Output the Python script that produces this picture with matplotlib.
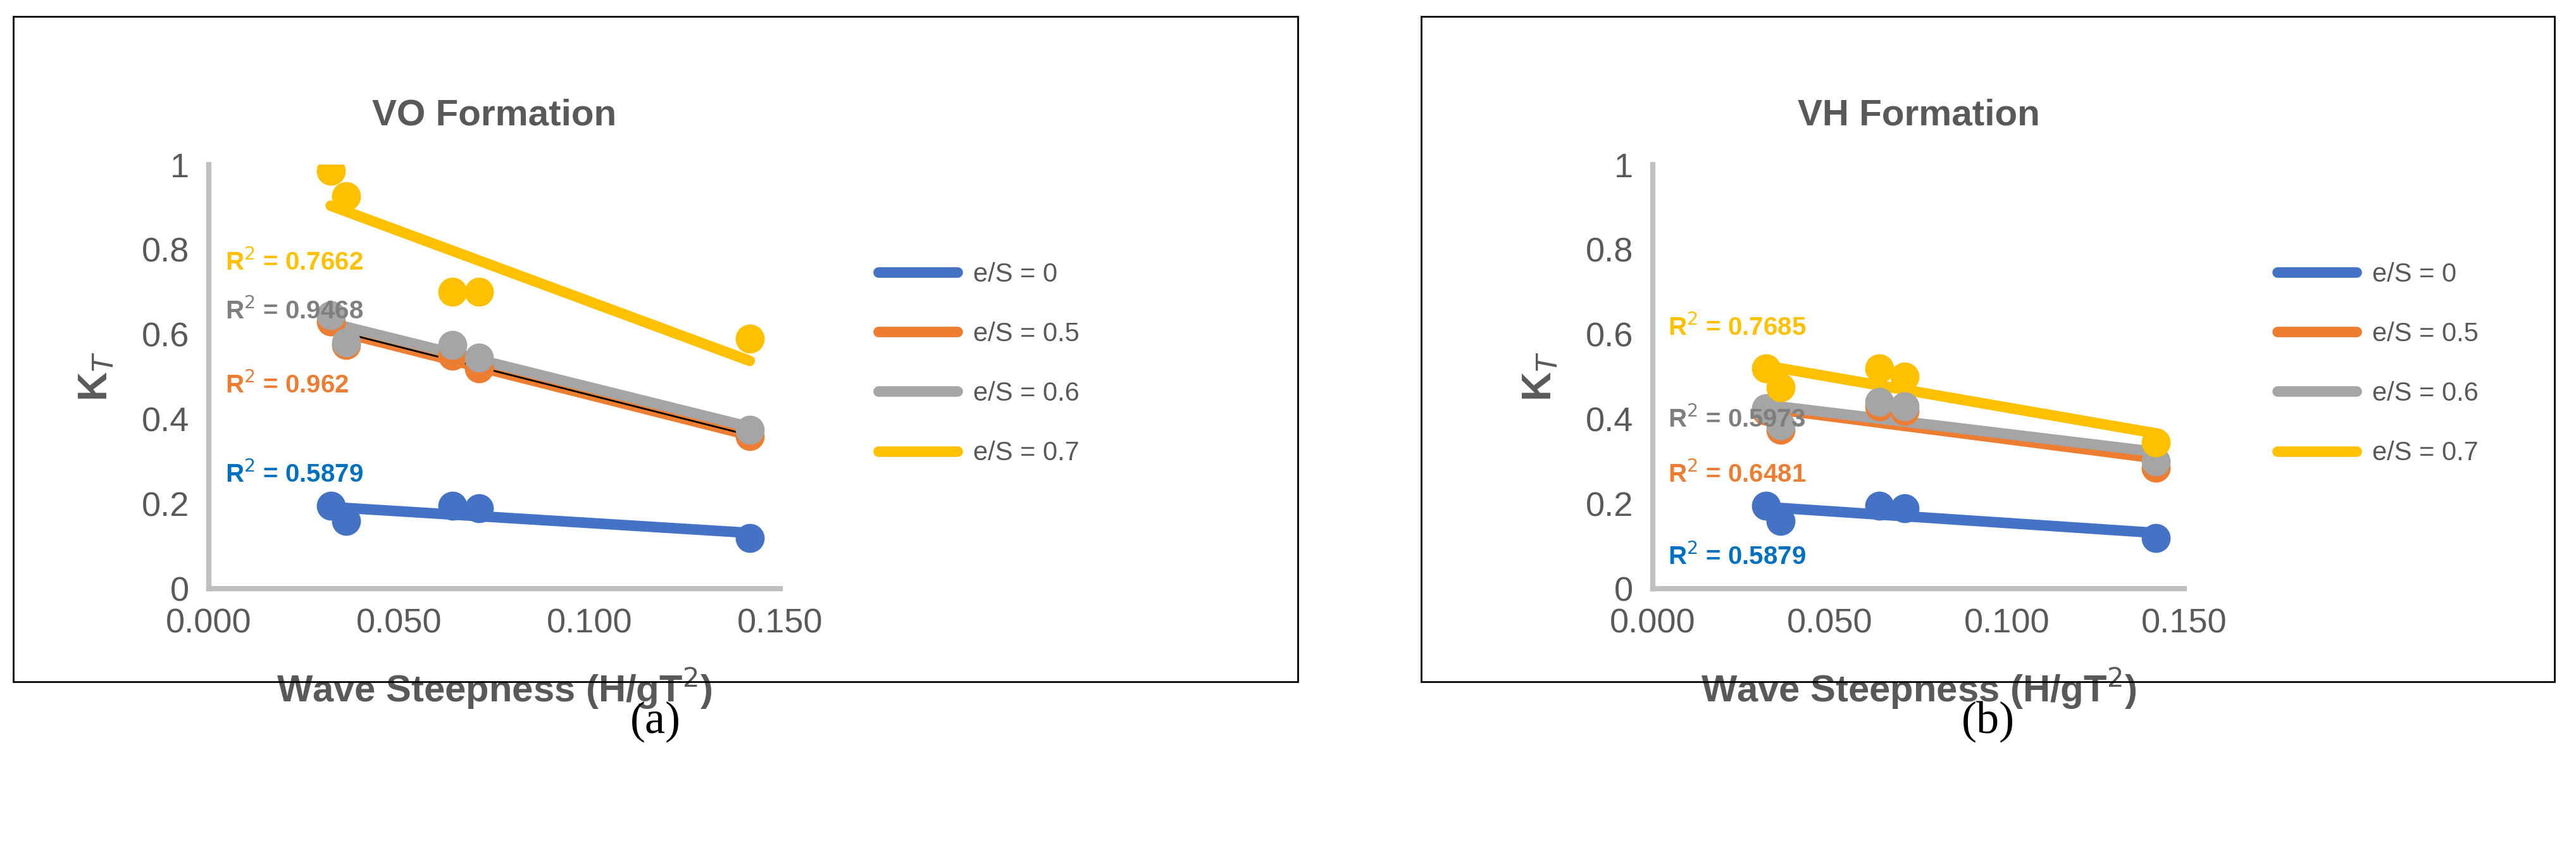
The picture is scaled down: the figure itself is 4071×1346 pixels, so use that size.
import matplotlib.pyplot as plt
import numpy as np
from matplotlib.patches import Rectangle

# wave steepness values
x = [0.032, 0.036, 0.064, 0.071, 0.142]
labels = ['e/S = 0', 'e/S = 0.5', 'e/S = 0.6', 'e/S = 0.7']
colors = ['#4472C4', '#ED7D31', '#A5A5A5', '#FFC000']
r2_colors = ['#0070C0', '#ED7D31', '#7F7F7F', '#FFC000']

vo_kt = [[0.195, 0.16, 0.195, 0.19, 0.12],
         [0.63, 0.575, 0.55, 0.52, 0.36],
         [0.645, 0.58, 0.575, 0.545, 0.375],
         [0.985, 0.925, 0.70, 0.70, 0.59]]
vo_r2 = ['0.5879', '0.962', '0.9468', '0.7662']
vo_r2_y = [0.27, 0.48, 0.655, 0.77]

vh_kt = [[0.195, 0.16, 0.195, 0.19, 0.12],
         [0.42, 0.375, 0.43, 0.42, 0.285],
         [0.425, 0.385, 0.44, 0.43, 0.30],
         [0.52, 0.475, 0.52, 0.50, 0.345]]
vh_r2 = ['0.5879', '0.6481', '0.5973', '0.7685']
vh_r2_y = [0.075, 0.27, 0.40, 0.615]

W, H = 4071, 1346
fig = plt.figure(figsize=(W / 100, H / 100), dpi=100)
plt.rcParams['font.family'] = ['Liberation Sans', 'DejaVu Sans']


def panel(box_x0, box_x1, ax_rect, title, data, r2, r2_y, tag, black_line):
    fig.patches.append(Rectangle((box_x0 / W, 1 - 1077 / H), (box_x1 - box_x0) / W, (1077 - 26) / H,
                                 transform=fig.transFigure, fill=False, edgecolor='black', lw=2))
    ax = fig.add_axes(ax_rect)
    xs = np.array(x)
    for i in range(4):
        ys = np.array(data[i])
        p = np.polyfit(xs, ys, 1)
        xl = np.array([xs.min(), xs.max()])
        ax.plot(xs, ys, 'o', color=colors[i], ms=32, zorder=3)
        ax.plot(xl, np.polyval(p, xl), color=colors[i], lw=12, solid_capstyle='round', zorder=2 + i * 0.1,
                label=labels[i])
        if black_line and i == 1:
            ax.plot(xl, np.polyval(p, xl), color='black', lw=2, zorder=2.35)
        ax.text(0.0043, r2_y[i], 'R$^2$ = ' + r2[i], color=r2_colors[i], fontsize=29,
                fontweight='bold', va='center', ha='left')
    ax.set_xlim(0, 0.15)
    ax.set_ylim(0, 1.0)
    ax.set_xticks([0, 0.05, 0.1, 0.15])
    ax.set_xticklabels(['0.000', '0.050', '0.100', '0.150'])
    ax.set_yticks([0, 0.2, 0.4, 0.6, 0.8, 1.0])
    ax.set_yticklabels(['0', '0.2', '0.4', '0.6', '0.8', '1'])
    ax.tick_params(length=0, labelsize=39, labelcolor='#595959', pad=22)
    for s in ['top', 'right']:
        ax.spines[s].set_visible(False)
    for s in ['left', 'bottom']:
        ax.spines[s].set_color('#BFBFBF')
        ax.spines[s].set_linewidth(6)
    ax.set_xlabel('Wave Steepness (H/gT$^2$)', fontsize=43, fontweight='bold', color='#595959', labelpad=30)
    ax.set_ylabel('K$_T$', fontsize=46, fontweight='bold', color='#595959', labelpad=30)
    ax.set_title(title, fontsize=42, fontweight='bold', color='#595959', pad=45)
    leg = ax.legend(loc='center left', bbox_to_anchor=(1.13, 0.53), frameon=False, fontsize=30,
                    labelspacing=1.3, handlelength=3.0, handletextpad=0.6)
    for t in leg.get_texts():
        t.set_color('#595959')
    fig.text((box_x0 + box_x1) / 2 / W, 1 - 1140 / H, tag, fontsize=52, ha='center', va='center',
             family='Liberation Serif')


panel(21, 2051, [330 / W, 1 - 930 / H, 903 / W, 670 / H], 'VO Formation', vo_kt, vo_r2, vo_r2_y,
      '(a)', True)
panel(2246, 4037, [2612 / W, 1 - 930 / H, 840 / W, 670 / H], 'VH Formation', vh_kt, vh_r2, vh_r2_y,
      '(b)', False)

fig.savefig('out.png', dpi=100)
